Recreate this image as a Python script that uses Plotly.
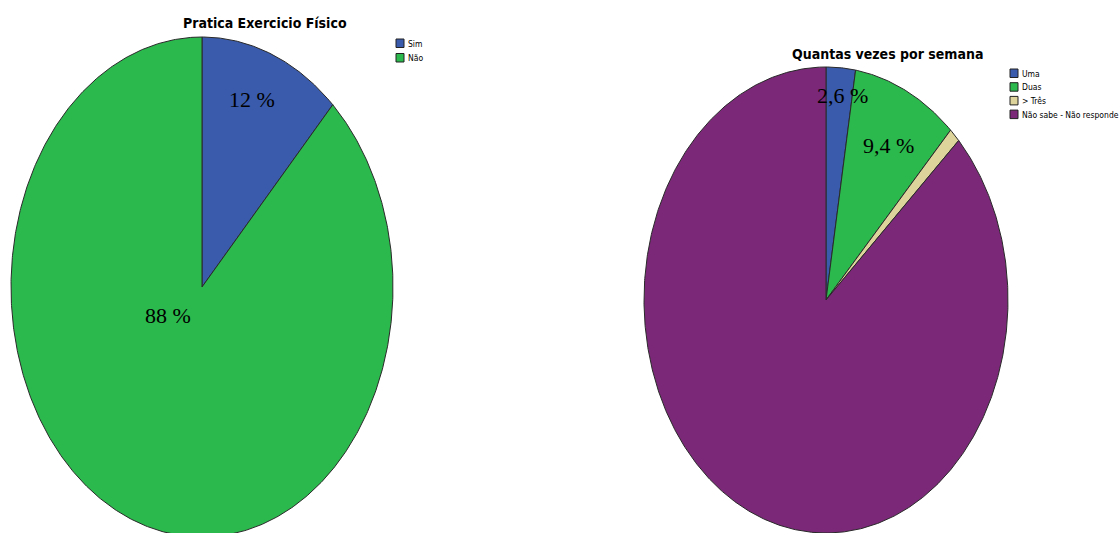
import numpy as np
import plotly.graph_objects as go

# ---- data ----
title1 = "Pratica Exercicio Físico"
cats1 = ["Sim", "Não"]
vals1 = [12, 88]
labels1 = ["12 %", "88 %"]

title2 = "Quantas vezes por semana"
cats2 = ["Uma", "Duas", "> Três", "Não sabe - Não responde"]
vals2 = [2.6, 9.4, 1.0, 87.0]
labels2 = ["2,6 %", "9,4 %", "", ""]

# ---- style ----
W, H = 1119, 533
colors1 = ["#3A5BAB", "#2BB94D"]
colors2 = ["#3A5BAB", "#2BB94D", "#DDD49C", "#7A2877"]
outline = "#2a2a2a"
pie1 = dict(cx=202, cy=287, rx=191, ry=250)
pie2 = dict(cx=826, cy=300, rx=182, ry=233)
lab_r1 = [0.80, 0.14]
lab_r2 = [0.87, 0.75, 0, 0]
lab_shift1 = [(-6, -2), (-24, -4)]
lab_shift2 = [(4, -2), (2, 2), (0, 0), (0, 0)]
leg1 = dict(x=396, y=39, step=14.5)
leg2 = dict(x=1010, y=69, step=13.7)
narrow = "DejaVu Sans Condensed, Liberation Sans Narrow, Arial Narrow, Liberation Sans"
serif = "Liberation Serif, Times New Roman, serif"

fig = go.Figure()
annotations = []
shapes = []


def add_pie(vals, cats, colors, geo, labels, lab_r, lab_shift, leg):
    total = float(sum(vals))
    start = 0.0
    for i, (v, c, col, lab, rr, sh) in enumerate(zip(vals, cats, colors, labels, lab_r, lab_shift)):
        frac = v / total
        a0, a1 = start * 360, (start + frac) * 360
        th = np.radians(np.linspace(a0, a1, max(4, int((a1 - a0) * 2))))
        xs = np.concatenate([[geo["cx"]], geo["cx"] + geo["rx"] * np.sin(th), [geo["cx"]]])
        ys = np.concatenate([[geo["cy"]], geo["cy"] - geo["ry"] * np.cos(th), [geo["cy"]]])
        fig.add_trace(go.Scatter(
            x=xs, y=ys, fill="toself", fillcolor=col, mode="lines",
            line=dict(color=outline, width=1), name=c, showlegend=False,
            hoverinfo="name",
        ))
        if lab:
            am = np.radians((a0 + a1) / 2)
            lx = geo["cx"] + rr * geo["rx"] * np.sin(am) + sh[0]
            ly = geo["cy"] - rr * geo["ry"] * np.cos(am) + sh[1]
            annotations.append(dict(x=lx, y=ly, xref="x", yref="y", text=lab,
                                    showarrow=False,
                                    font=dict(family=serif, size=22, color="black")))
        # legend entry
        ty = leg["y"] + i * leg["step"]
        shapes.append(dict(type="rect", xref="x", yref="y", x0=leg["x"], x1=leg["x"] + 8,
                           y0=ty, y1=ty + 8.5, fillcolor=col,
                           line=dict(color="#222222", width=1)))
        annotations.append(dict(x=leg["x"] + 10, y=ty + 4.5, xref="x", yref="y", text=c,
                                showarrow=False, xanchor="left", yanchor="middle",
                                font=dict(family=narrow, size=8.5, color="black")))
        start += frac


add_pie(vals1, cats1, colors1, pie1, labels1, lab_r1, lab_shift1, leg1)
add_pie(vals2, cats2, colors2, pie2, labels2, lab_r2, lab_shift2, leg2)

annotations.append(dict(x=265, y=23, xref="x", yref="y", text="<b>" + title1 + "</b>",
                        showarrow=False, font=dict(family=narrow, size=14, color="black"),
                        xanchor="center", yanchor="middle"))
annotations.append(dict(x=887, y=54, xref="x", yref="y", text="<b>" + title2 + "</b>",
                        showarrow=False, font=dict(family=narrow, size=14, color="black"),
                        xanchor="center", yanchor="middle"))

fig.update_layout(
    width=W, height=H,
    margin=dict(l=0, r=0, t=0, b=0, autoexpand=False),
    paper_bgcolor="white", plot_bgcolor="white",
    xaxis=dict(range=[0, W], visible=False, fixedrange=True),
    yaxis=dict(range=[H, 0], visible=False, fixedrange=True),
    showlegend=False,
    annotations=annotations,
    shapes=shapes,
)

fig.write_html(
    "out.html",
    config={"displayModeBar": False},
    post_script="document.body.style.margin='0';document.body.style.padding='0';"
                "document.body.style.overflow='hidden';",
)
